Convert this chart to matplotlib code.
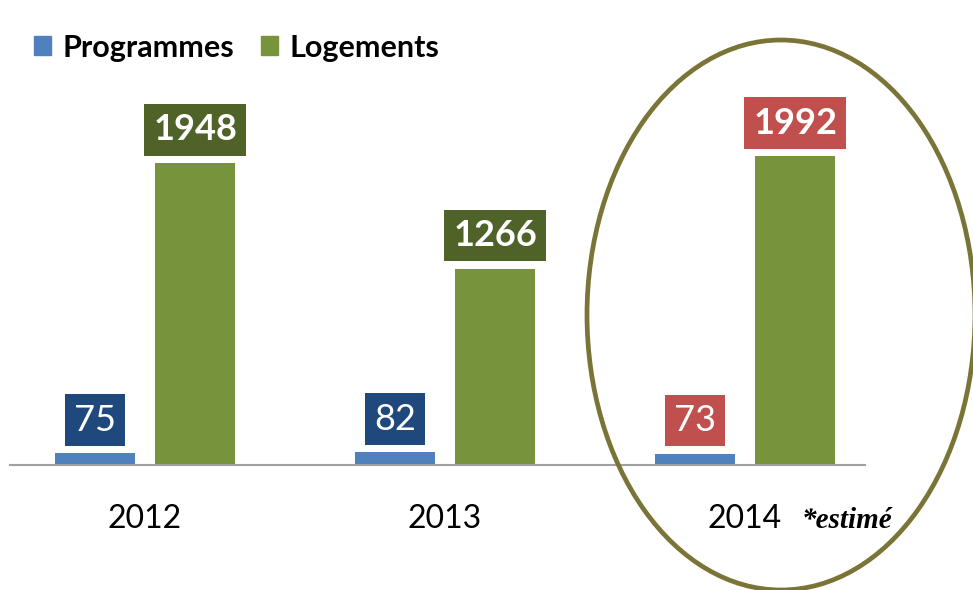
import matplotlib.pyplot as plt
import numpy as np
from matplotlib.patches import Patch, Ellipse

# ---- data ----
years = ["2012", "2013", "2014"]
programmes = [75, 82, 73]
logements = [1948, 1266, 1992]
prog_box_colors = ["#1F497D", "#1F497D", "#C0504D"]
loge_box_colors = ["#4F6228", "#4F6228", "#C0504D"]

BLUE = "#4F81BD"
GREEN = "#77933C"

plt.rcParams["font.family"] = ["Lato", "DejaVu Sans"]

W, H = 973, 590
fig = plt.figure(figsize=(W / 100, H / 100), dpi=100)
# axes: baseline at y=465 px from top, spanning x 10..865 px
ax = fig.add_axes([10 / W, 125 / H, 855 / W, 465 / H])

x = np.arange(len(years))
bw = 0.267
off = 0.167
ax.bar(x - off, programmes, bw, color=BLUE)
ax.bar(x + off, logements, bw, color=GREEN)

ax.set_xlim(-0.45, 2.4)
ax.set_ylim(0, 3000)

# value labels in coloured boxes
for xi, v, c in zip(x, programmes, prog_box_colors):
    ax.annotate(str(v), (xi - off, v), xytext=(0, 12), textcoords="offset points",
                ha="center", va="bottom", fontsize=26, color="white",
                bbox=dict(boxstyle="square,pad=0.26", fc=c, ec="none"))
for xi, v, c in zip(x, logements, loge_box_colors):
    ax.annotate(str(v), (xi + off, v), xytext=(0, 12), textcoords="offset points",
                ha="center", va="bottom", fontsize=26, color="white", fontweight="bold",
                bbox=dict(boxstyle="square,pad=0.26", fc=c, ec="none"))

for s in ["top", "right", "left"]:
    ax.spines[s].set_visible(False)
ax.spines["bottom"].set_color("#A0A0A0")
ax.spines["bottom"].set_linewidth(1.5)
ax.set_yticks([])
ax.set_xticks(x)
ax.set_xticklabels(years, fontsize=23)
ax.tick_params(axis="x", length=0, pad=28)

fig.text(802 / W, 1 - 520 / H, "*estimé", fontsize=21, fontweight="bold",
         fontstyle="italic", family="Liberation Serif", va="center", ha="left")

# highlight circle round 2014
ell = Ellipse((781 / W, 1 - 315 / H), 388 / W, 550 / H, transform=fig.transFigure,
              fill=False, ec="#7A7437", lw=3.4, clip_on=False)
fig.patches.append(ell)

handles = [Patch(color=BLUE, label="Programmes"), Patch(color=GREEN, label="Logements")]
fig.legend(handles=handles, loc="upper left", bbox_to_anchor=(6 / W, 1 - 6 / H),
           ncol=2, frameon=False, prop=dict(size=22, weight="bold"),
           handlelength=0.56, handleheight=0.56, handletextpad=0.4, columnspacing=0.85)

fig.savefig("out.png", dpi=100)
